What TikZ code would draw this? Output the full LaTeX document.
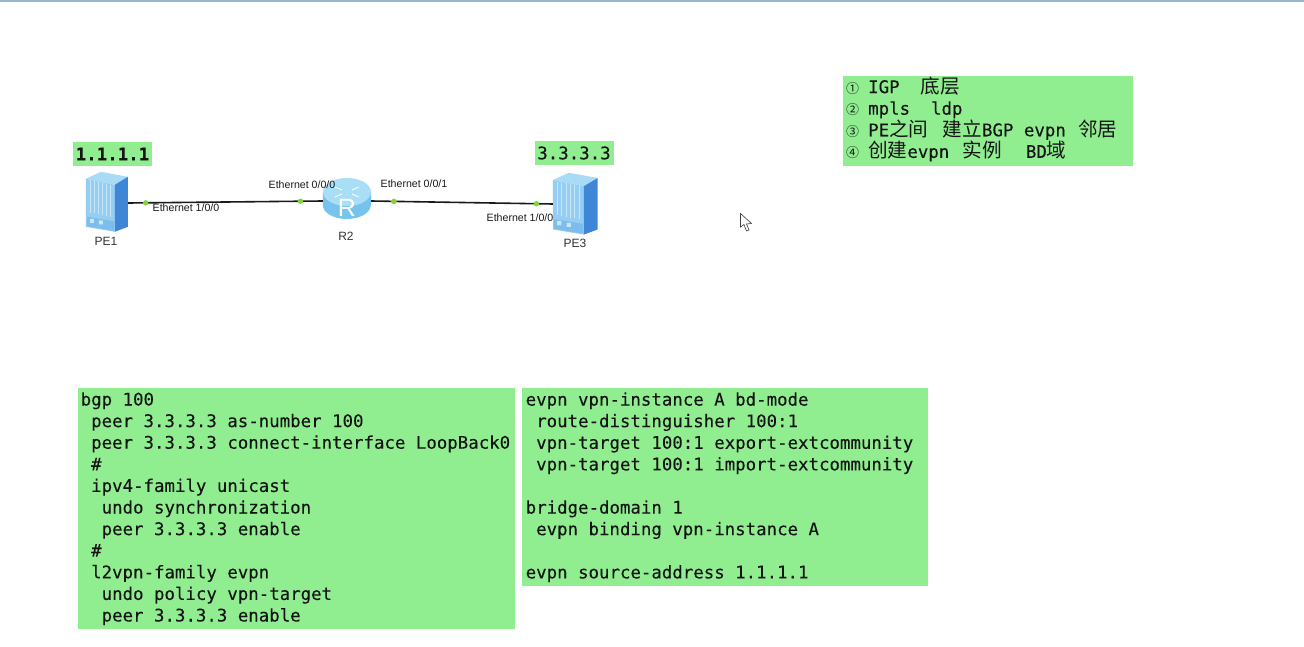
\documentclass[tikz,border=0pt]{standalone}
\usepackage{fontspec}
\newfontfamily\codefam{DejaVu Sans Mono}[FakeBold=0.15]
\newfontfamily\cjk{Noto Sans CJK SC}
\newfontfamily\labelfam{Liberation Sans}
\usetikzlibrary{calc,positioning}
\definecolor{notegreen}{HTML}{90EE90}
\definecolor{portgreen}{HTML}{84D23C}
\definecolor{topbar}{HTML}{9DB6CF}
\definecolor{inktext}{HTML}{141414}
\definecolor{chassistop}{HTML}{A9DAF6}
\definecolor{chassisfront}{HTML}{96CEF3}
\definecolor{chassisback}{HTML}{7DBDEC}
\definecolor{chassisside}{HTML}{3F86D6}
\definecolor{chassisslot}{HTML}{C6E6FA}
\definecolor{routertop}{HTML}{A8DEF6}
\definecolor{routerbody}{HTML}{76C3EE}
\newcommand{\ind}{\phantom{0}}
\newcommand{\zh}[1]{{\cjk\fontsize{19.6}{21.6}\selectfont #1}}
\newcommand{\cnum}[1]{\makebox[22pt][l]{{\cjk\fontsize{13}{21.6}\selectfont #1}}}
% chassis icon, drawn inside the named node
\newcommand{\chassisicon}[2]{%
  \begin{scope}[shift={(#1.north west)}, #2]
    \fill[chassistop] (0,7) -- (15,0) -- (42,5) -- (29,13) -- cycle;
    \fill[chassisfront] (0,7) -- (29,13) -- (29,60) -- (0,55) -- cycle;
    \fill[chassisside] (29,13) -- (42,5) -- (42,55) -- (29,60) -- cycle;
    \foreach \i in {1,...,6} { \draw[chassisslot, line width=.5pt] (4.1*\i,7.8+.85*\i) -- (4.1*\i,40+.85*\i); }
    \fill[chassisback] (1,45) -- (28,49.5) -- (28,59) -- (1,54.5) -- cycle;
    \fill[chassisslot] (4,47) rectangle (8,51) (13,48.5) rectangle (17,52.5);
  \end{scope}}
\tikzset{
  notebox/.style={fill=notegreen, text=inktext, anchor=north west, align=flush left, inner xsep=3pt, inner ysep=0pt,
    font=\codefam\fontsize{17.4}{21.6}\selectfont},
  tagbox/.style={fill=notegreen, text=inktext, minimum width=79pt, minimum height=24pt, inner sep=0pt,
    font=\codefam\fontsize{17.4}{21.6}\selectfont},
  chassis/.style={minimum width=42pt, minimum height=60pt, inner sep=0pt},
  router/.style={minimum width=48pt, minimum height=41pt, inner sep=0pt},
  link/.style={line width=1.6pt, black!90},
  portdot/.style={circle, fill=portgreen, minimum size=5.5pt, inner sep=0pt},
  ifname/.style={font=\labelfam\fontsize{10.6}{12}\selectfont, text=black!90, inner sep=0pt},
  devname/.style={font=\labelfam\fontsize{12}{14}\selectfont, text=black!80, inner sep=0pt}}
\begin{document}
\begin{tikzpicture}[x=1pt, y=-1pt]
\useasboundingbox (0,0) rectangle (1304,647);
\fill[topbar] (0,0) rectangle (1304,2.5);
% ---------------- devices ----------------
\node[chassis] (PE1) at (107,202) {};
\node[router] (R2) at (347,198.5) {};
\node[chassis, minimum width=45pt, minimum height=62pt] (PE3) at (575.5,204) {};
\chassisicon{PE1}{}
\chassisicon{PE3}{x=1.07pt, y=-1.03pt}
% router cylinder
\fill[routerbody] (R2.west |- 0,192) -- (R2.west |- 0,205) arc[start angle=180, end angle=0, x radius=24, y radius=14] -- (R2.east |- 0,192) -- cycle;
\fill[routertop] (347,192) ellipse[x radius=24, y radius=14];
\draw[white, line width=.8pt] (335,187) -- (342,190) (359,187) -- (352,190) (335,197) -- (342,194) (359,197) -- (352,194);
\node[font=\labelfam\fontsize{25}{27}\selectfont, text=white, inner sep=0pt] (R2sign) at (347,208) {R};
% ---------------- links ----------------
\draw[link] (PE1.east |- 0,203) -- node[portdot, pos=.09] (p1) {} node[portdot, pos=.885] (p2) {} (R2.west |- 0,201);
\draw[link] (R2.east |- 0,201) -- node[portdot, pos=.125] (p3) {} node[portdot, pos=.91] (p4) {} (PE3.west |- 0,204);
\node[ifname] (if1) at (186,208) {Ethernet 1/0/0};
\node[ifname] (if2) at (302,185) {Ethernet 0/0/0};
\node[ifname] (if3) at (414,184) {Ethernet 0/0/1};
\node[ifname] (if4) at (520,218) {Ethernet 1/0/0};
\node[devname] (nPE1) at (106,241) {PE1};
\node[devname] (nR2) at (346,236) {R2};
\node[devname] (nPE3) at (575,243) {PE3};
% ---------------- address tags ----------------
\node[tagbox] (tag1) at (112.5,154) {\bfseries 1.1.1.1};
\node[tagbox] (tag3) at (574,153) {3.3.3.3};
% ---------------- notes ----------------
\node[notebox, text width=284pt, minimum height=90pt] (steps) at (843,76) {%
  \cnum{①}IGP\ind\ind\zh{底层}\\
  \cnum{②}mpls\ind\ind ldp\\
  \cnum{③}PE\zh{之间} \kern4pt\zh{建立}BGP evpn \kern2pt\zh{邻居}\\
  \cnum{④}\zh{创建}evpn \kern3pt\zh{实例}\ind\ind\kern3pt BD\zh{域}\rule[-8pt]{0pt}{0pt}};
\node[notebox, text width=432pt, minimum height=241pt, inner xsep=2.5pt] (bgpcfg) at (78,388) {%
  bgp 100\\
  \ind peer 3.3.3.3 as-number 100\\
  \ind peer 3.3.3.3 connect-interface LoopBack0\\
  \ind \#\\
  \ind ipv4-family unicast\\
  \ind\ind undo synchronization\\
  \ind\ind peer 3.3.3.3 enable\\
  \ind \#\\
  \ind l2vpn-family evpn\\
  \ind\ind undo policy vpn-target\\
  \ind\ind peer 3.3.3.3 enable};
\node[notebox, text width=399pt, minimum height=198pt, inner xsep=3.5pt] (evpncfg) at (522,388) {%
  evpn vpn-instance A bd-mode\\
  \ind route-distinguisher 100:1\\
  \ind vpn-target 100:1 export-extcommunity\\
  \ind vpn-target 100:1 import-extcommunity\\[21.6pt]
  bridge-domain 1\\
  \ind evpn binding vpn-instance A\\[21.6pt]
  evpn source-address 1.1.1.1};
% mouse pointer
\draw[black!75, fill=white, line width=.6pt] (740.5,213.5) -- (740.5,227) -- (744,224.5) -- (746.5,231) -- (749,230) -- (746.5,224) -- (751.5,223.5) -- cycle;
\end{tikzpicture}
\end{document}
